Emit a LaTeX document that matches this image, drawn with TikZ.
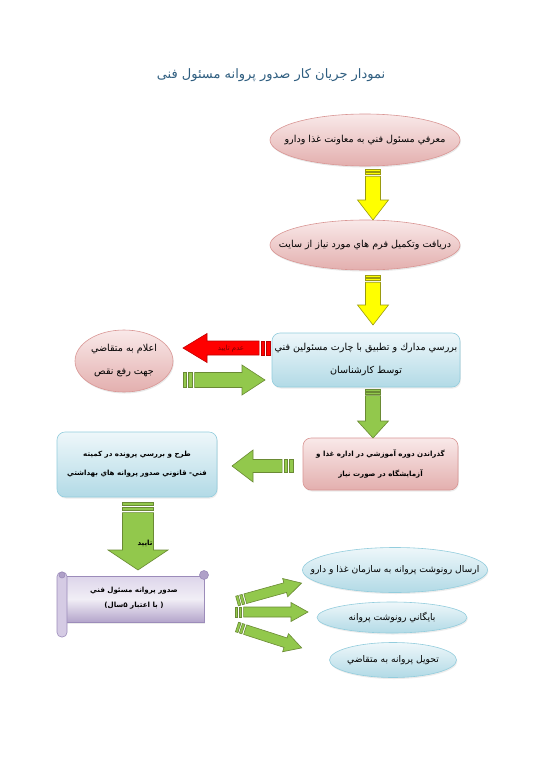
\documentclass[tikz,border=0pt]{standalone}
\usepackage{fontspec}
\setmainfont{DejaVu Sans}
\newfontfamily\arabicfont[Script=Arabic]{DejaVu Sans}
\TeXXeTstate=1
\usetikzlibrary{shapes.geometric,shadows}
\definecolor{titlecol}{HTML}{2F5E80}
\definecolor{pinktop}{HTML}{F9E9E9}
\definecolor{pinkbot}{HTML}{E3AFAE}
\definecolor{pinkbord}{HTML}{D99694}
\definecolor{bluetop}{HTML}{EEF7FA}
\definecolor{bluebot}{HTML}{B2DAE6}
\definecolor{bluebord}{HTML}{93CDDD}
\definecolor{lavtop}{HTML}{DDD5EA}
\definecolor{lavmid}{HTML}{F1EEF6}
\definecolor{lavbot}{HTML}{B4A5CB}
\definecolor{lavbord}{HTML}{9C8CBA}
\definecolor{yelfill}{HTML}{FFFF00}
\definecolor{yelbord}{HTML}{9A9A10}
\definecolor{grnfill}{HTML}{92C84C}
\definecolor{grnbord}{HTML}{6A8A34}
\definecolor{redfill}{HTML}{FF0000}
\definecolor{redbord}{HTML}{C00000}
\definecolor{redtext}{HTML}{7A0000}
\newcommand\arnorm{\arabicfont\fontsize{9.6}{11}\selectfont}
\newcommand\arright{\arabicfont\fontsize{9.2}{11}\selectfont}
\newcommand\arbold{\arabicfont\bfseries\fontsize{7.1}{9}\selectfont}
% #1 tail, #2 angle, #3 length, #4 shaft half width, #5 head half width,
% #6 head length, #7 stripe unit, #8 style
\newcommand\stripedarrow[8]{%
  \begin{scope}[shift={#1},rotate=#2]
    \path[#8] (0,-#4) rectangle (#7,#4);
    \path[#8] ({1.6*#7},-#4) rectangle ({2.6*#7},#4);
    \path[#8] ({3.3*#7},-#4) -- ({#3-#6},-#4) -- ({#3-#6},-#5) -- (#3,0)
      -- ({#3-#6},#5) -- ({#3-#6},#4) -- ({3.3*#7},#4) -- cycle;
  \end{scope}}
\begin{document}
\begin{tikzpicture}[x=1pt,y=-1pt,
  pinkell/.style={ellipse, draw=pinkbord, line width=0.6pt, top color=pinktop,
    bottom color=pinkbot, inner sep=0pt,
    drop shadow={opacity=0.18, shadow xshift=0.8pt, shadow yshift=-1.5pt}},
  blueell/.style={ellipse, draw=bluebord, line width=0.6pt, top color=bluetop,
    bottom color=bluebot, inner sep=0pt,
    drop shadow={opacity=0.15, shadow xshift=0.8pt, shadow yshift=-1.5pt}},
  bluebox/.style={rectangle, rounded corners=8pt, draw=bluebord, line width=0.6pt,
    top color=bluetop, bottom color=bluebot, inner sep=0pt, align=center,
    drop shadow={opacity=0.15, shadow xshift=0.8pt, shadow yshift=-1.5pt}},
  pinkbox/.style={rectangle, rounded corners=8pt, draw=pinkbord, line width=0.6pt,
    top color=pinktop, bottom color=pinkbot, inner sep=0pt, align=center,
    drop shadow={opacity=0.15, shadow xshift=0.8pt, shadow yshift=-1.5pt}},
  ntext/.style={font=\arnorm, align=center, inner sep=0pt},
  rtext/.style={font=\arright, align=center, inner sep=0pt},
  yelarrow/.style={fill=yelfill, draw=yelbord, line width=0.6pt},
  grnarrow/.style={fill=grnfill, draw=grnbord, line width=0.6pt},
  redarrow/.style={fill=redfill, draw=redbord, line width=0.6pt}]
\useasboundingbox[fill=white] (0,0) rectangle (543,768);

% title
\node[font=\arabicfont\fontsize{13}{15}\selectfont, text=titlecol] (title) at (271,75)
  {\beginR نمودار جریان کار صدور پروانه مسئول فنی\endR};

% step 1 and 2
\node[pinkell, minimum width=190, minimum height=52] (e1) at (365,140) {};
\node[ntext] (e1t) at (e1) {\beginR معرفي مسئول فني به معاونت غذا ودارو\endR};
\node[pinkell, minimum width=190, minimum height=50] (e2) at (365,245) {};
\node[ntext] (e2t) at (e2) {\beginR دريافت وتكميل فرم هاي مورد نياز از سايت\endR};

% step 3
\node[bluebox, minimum width=188, minimum height=54, font=\arnorm] (b3) at (366,360)
  {\beginR بررسي مدارك و تطبيق با چارت مسئولين فني\endR\\[12pt]
   \beginR توسط كارشناسان\endR};

% left ellipse
\node[pinkell, minimum width=98, minimum height=62] (eleft) at (124,361) {};
\node[ntext] (eleftt) at (eleft)
  {\beginR اعلام به متقاضي\endR\\[12pt]\beginR جهت رفع نقص\endR};

% step 4
\node[pinkbox, minimum width=155, minimum height=52, font=\arbold] (b4) at (380.5,464)
  {\beginR گذراندن دوره آموزشي در اداره غذا و\endR\\[11pt]
   \beginR آزمايشگاه در صورت نياز\endR};

% step 5
\node[bluebox, minimum width=160, minimum height=65, font=\arbold] (b5) at (137,464.5)
  {\beginR طرح و بررسي پرونده در كميته\endR\\[10pt]
   \beginR فني- قانوني صدور پروانه هاي بهداشتي\endR};

% scroll
\path[draw=lavbord, line width=0.6pt, top color=lavtop, bottom color=lavbot,
  middle color=lavmid, drop shadow={opacity=0.15, shadow xshift=0.8pt, shadow yshift=-1.5pt}]
  (62,576) -- (204,576) -- (204,622) -- (62,622) -- cycle;
\draw[lavbord, line width=0.6pt, fill=lavtop!80!lavbot, rounded corners=4.5pt]
  (57,572) rectangle (67,637);
\draw[lavbord, line width=0.6pt, fill=lavbot!80!lavbord] (204,575) circle (4.5);
\draw[lavbord, line width=0.6pt, fill=lavbot!80!lavbord] (62,575) circle (3);
\node[font=\arbold, align=center] (scroll) at (134,598)
  {\beginR صدور پروانه مسئول فني\endR\\[6pt]\beginR ( با اعتبار ۵سال)\endR};

% right ellipses
\node[blueell, minimum width=185, minimum height=45] (r1) at (395,570) {};
\node[rtext] (r1t) at (r1) {\beginR ارسال رونوشت پروانه به سازمان غذا و دارو\endR};
\node[blueell, minimum width=150, minimum height=31] (r2) at (392,617.5) {};
\node[rtext] (r2t) at (r2) {\beginR بايگاني رونوشت پروانه\endR};
\node[blueell, minimum width=127, minimum height=35] (r3) at (393,660) {};
\node[rtext] (r3t) at (r3) {\beginR تحويل پروانه به متقاضي\endR};

% arrows
\stripedarrow{(373,169)}{-90}{51}{7.5}{15.5}{20}{2.2}{yelarrow}
\stripedarrow{(373,275)}{-90}{50}{7.5}{15.5}{20}{2.2}{yelarrow}
\stripedarrow{(373,389)}{-90}{49}{7.5}{15.5}{17}{2.0}{grnarrow}
\stripedarrow{(270,348)}{180}{87}{7}{14.5}{24}{3.3}{redarrow}
\node[font=\arabicfont\fontsize{7}{8}\selectfont, text=redtext] (nok) at (231,348.5)
  {\beginR عدم تاييد\endR};
\stripedarrow{(183,380)}{0}{82}{7.5}{15}{23}{3.5}{grnarrow}
\stripedarrow{(293,466)}{180}{61}{6.5}{16}{21}{3.3}{grnarrow}
\stripedarrow{(138,502)}{-90}{68}{15.5}{30}{20}{3.2}{grnarrow}
\node[font=\arbold] (ok) at (145,543) {\beginR تاييد\endR};
\stripedarrow{(237,601)}{15.5}{67}{5}{9.5}{17}{2.6}{grnarrow}
\stripedarrow{(235,612)}{0}{73}{5}{9.5}{17}{2.6}{grnarrow}
\stripedarrow{(237,627)}{-17.9}{68}{5}{9.5}{17}{2.6}{grnarrow}
\end{tikzpicture}
\end{document}
